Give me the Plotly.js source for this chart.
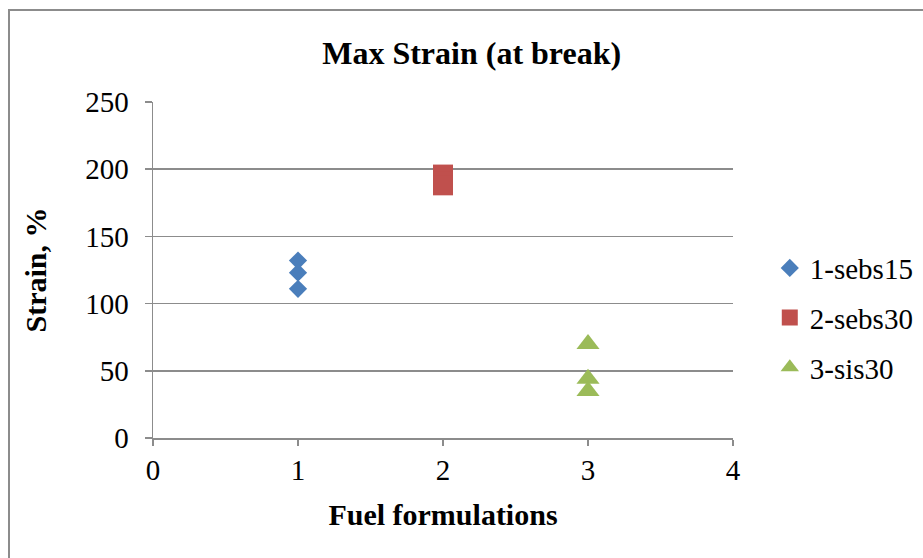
<!DOCTYPE html>
<html>
<head>
<meta charset="utf-8">
<script src="https://cdn.plot.ly/plotly-3.0.1.min.js"></script>
<style>
  html, body { margin: 0; padding: 0; background: #fff; }
  #wrap { position: relative; width: 923px; height: 558px; overflow: hidden; }
  #chart { position: absolute; left: 0; top: 0; width: 923px; height: 558px; }
  #frame { position: absolute; left: 8px; top: 9px; width: 960px; height: 600px;
           border: 2px solid #8c8c8c; pointer-events: none; }
  #chart .legendtext { font-family: "Liberation Serif", "Times New Roman", serif !important; }
</style>
</head>
<body>
<div id="wrap">
  <div id="chart"></div>
  <div id="frame"></div>
</div>
<script>
// Max strain at break for each fuel formulation (three samples each)
const seriesNames = ['1-sebs15', '2-sebs30', '3-sis30'];
const formulation = [1, 2, 3];
const strainSebs15 = [132, 123, 111];
const strainSebs30 = [196, 191, 188];
const strainSis30 = [70, 44, 35];

const xTicks = [0, 1, 2, 3, 4];
const yTicks = [0, 50, 100, 150, 200, 250];

const serif = 'Liberation Serif';

function series(name, x, ys, symbol, size, color) {
  return {
    type: 'scatter',
    mode: 'markers',
    name: name,
    legendgroup: name,
    x: ys.map(() => x),
    y: ys,
    marker: { symbol: symbol, size: size, color: color, line: { width: 0 } },
    cliponaxis: false
  };
}

const data = [
  series(seriesNames[0], formulation[0], strainSebs15, 'diamond', 14, '#4a7ebb'),
  series(seriesNames[1], formulation[1], strainSebs30, 'square', 20, '#c0504d'),
  series(seriesNames[2], formulation[2], strainSis30, 'triangle-up', 20, '#9bbb59')
];

const layout = {
  width: 923,
  height: 558,
  margin: { l: 153, r: 190, t: 102, b: 120 },
  paper_bgcolor: '#ffffff',
  plot_bgcolor: '#ffffff',
  font: { family: serif, color: '#000000', size: 29 },
  title: {
    text: '<b>Max Strain (at break)</b>',
    font: { family: serif, size: 32, color: '#000' },
    xref: 'container', x: 0.511, xanchor: 'center',
    yref: 'container', y: 0.905, yanchor: 'middle'
  },
  xaxis: {
    range: [0, 4],
    tickvals: xTicks,
    ticktext: xTicks.map(String),
    showgrid: false,
    zeroline: false,
    showline: true,
    linecolor: '#8c8c8c',
    linewidth: 1.5,
    ticks: 'outside',
    ticklen: 6,
    tickwidth: 1.5,
    tickcolor: '#8c8c8c',
    tickfont: { family: serif, size: 29 },
    automargin: false,
    title: { text: '<b>Fuel formulations</b>', font: { family: serif, size: 30 }, standoff: 18 }
  },
  yaxis: {
    range: [0, 250],
    tickvals: yTicks,
    ticktext: yTicks.map(String),
    showgrid: true,
    gridcolor: '#8c8c8c',
    gridwidth: 1.5,
    zeroline: false,
    showline: true,
    linecolor: '#8c8c8c',
    linewidth: 1.5,
    ticks: 'outside',
    ticklen: 7,
    tickwidth: 1.5,
    tickcolor: '#8c8c8c',
    ticklabelstandoff: 10,
    tickfont: { family: serif, size: 29 },
    automargin: false,
    title: { text: '<b>Strain, %</b>', font: { family: serif, size: 30 }, standoff: 29 }
  },
  showlegend: true,
  legend: {
    xref: 'container', x: 0.834, xanchor: 'left',
    yref: 'container', y: 0.43, yanchor: 'middle',
    traceorder: 'grouped',
    tracegroupgap: 9,
    font: { family: serif, size: 29, color: '#000' },
    bgcolor: 'rgba(0,0,0,0)'
  }
};

Plotly.newPlot('chart', data, layout, { displayModeBar: false, staticPlot: true });
</script>
</body>
</html>
